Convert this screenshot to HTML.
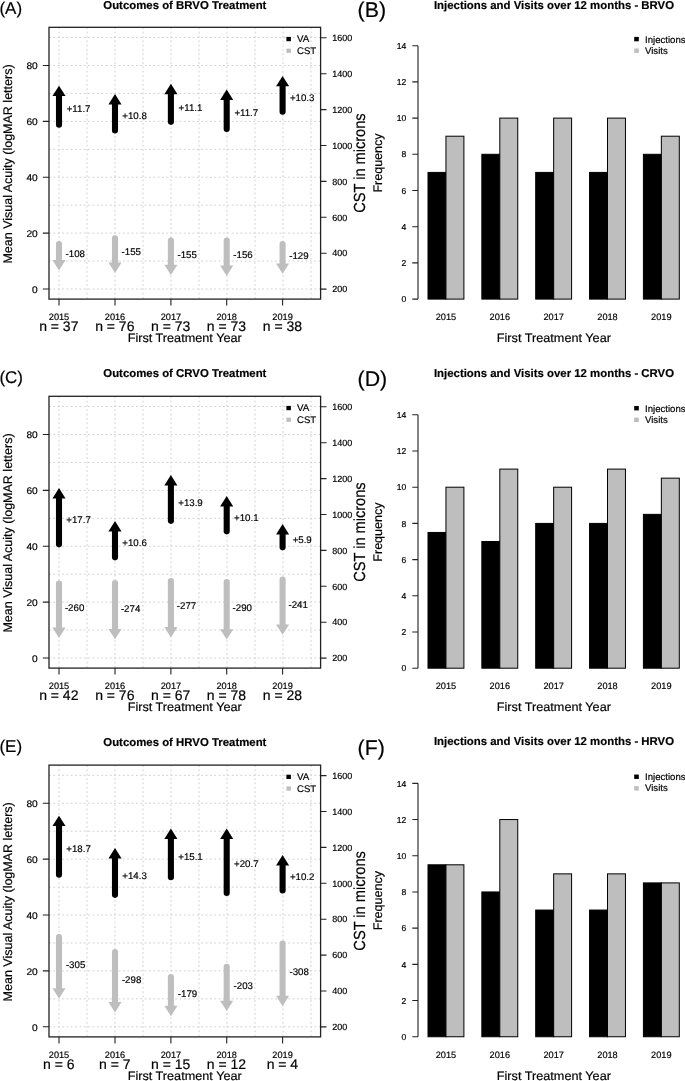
<!DOCTYPE html><html><head><meta charset="utf-8"><style>html,body{margin:0;padding:0;background:#fff;}svg{display:block;will-change:transform;text-rendering:geometricPrecision;}text{stroke:#000;stroke-width:0.18px;}</style></head><body>
<svg width="685" height="1081" viewBox="0 0 685 1081" font-family='"Liberation Sans", sans-serif' fill="#000">
<rect width="685" height="1081" fill="#fff"/>
<g>
<path d="M59.00 27.30V299.10M87.00 27.30V299.10M115.00 27.30V299.10M143.00 27.30V299.10M171.00 27.30V299.10M199.00 27.30V299.10M227.00 27.30V299.10M255.00 27.30V299.10M283.00 27.30V299.10M311.00 27.30V299.10M49.00 289.00H320.60M49.00 261.06H320.60M49.00 233.12H320.60M49.00 205.18H320.60M49.00 177.24H320.60M49.00 149.30H320.60M49.00 121.36H320.60M49.00 93.42H320.60M49.00 65.48H320.60M49.00 37.54H320.60" stroke="#d0d0d0" stroke-width="1" stroke-dasharray="1.8 2.55" fill="none"/>
<rect x="49.0" y="27.30" width="271.60" height="271.80" fill="none" stroke="#222" stroke-width="1.3"/>
<text transform="translate(37.7 292.95) scale(1.05 1)" text-anchor="end" font-size="9.7">0</text>
<text transform="translate(37.7 237.07) scale(1.05 1)" text-anchor="end" font-size="9.7">20</text>
<text transform="translate(37.7 181.19) scale(1.05 1)" text-anchor="end" font-size="9.7">40</text>
<text transform="translate(37.7 125.31) scale(1.05 1)" text-anchor="end" font-size="9.7">60</text>
<text transform="translate(37.7 69.43) scale(1.05 1)" text-anchor="end" font-size="9.7">80</text>
<text x="332.3" y="292.30" font-size="9">200</text>
<text x="332.3" y="256.40" font-size="9">400</text>
<text x="332.3" y="220.50" font-size="9">600</text>
<text x="332.3" y="184.60" font-size="9">800</text>
<text x="332.3" y="148.70" font-size="9">1000</text>
<text x="332.3" y="112.80" font-size="9">1200</text>
<text x="332.3" y="76.90" font-size="9">1400</text>
<text x="332.3" y="41.00" font-size="9">1600</text>
<text x="59.0" y="319.70" text-anchor="middle" font-size="9.2">2015</text>
<text x="58.8" y="331.30" text-anchor="middle" font-size="14">n = 37</text>
<text x="115.0" y="319.70" text-anchor="middle" font-size="9.2">2016</text>
<text x="114.8" y="331.30" text-anchor="middle" font-size="14">n = 76</text>
<text x="170.9" y="319.70" text-anchor="middle" font-size="9.2">2017</text>
<text x="170.70000000000002" y="331.30" text-anchor="middle" font-size="14">n = 73</text>
<text x="226.7" y="319.70" text-anchor="middle" font-size="9.2">2018</text>
<text x="226.5" y="331.30" text-anchor="middle" font-size="14">n = 73</text>
<text x="282.6" y="319.70" text-anchor="middle" font-size="9.2">2019</text>
<text x="282.40000000000003" y="331.30" text-anchor="middle" font-size="14">n = 38</text>
<path d="M42.8 289.00H49.0M42.8 233.12H49.0M42.8 177.24H49.0M42.8 121.36H49.0M42.8 65.48H49.0M320.6 289.10H326.5M320.6 253.20H326.5M320.6 217.30H326.5M320.6 181.40H326.5M320.6 145.50H326.5M320.6 109.60H326.5M320.6 73.70H326.5M320.6 37.80H326.5M59.0 299.10V305.60M115.0 299.10V305.60M170.9 299.10V305.60M226.7 299.10V305.60M282.6 299.10V305.60" stroke="#222" stroke-width="1.1" fill="none"/>
<text transform="translate(184.7 342.40) scale(1.04 1)" text-anchor="middle" font-size="12.2">First Treatment Year</text>
<text transform="translate(12.2 164.00) rotate(-90)" text-anchor="middle" font-size="12.5">Mean Visual Acuity (logMAR letters)</text>
<text transform="translate(365.0 163.10) scale(1.1 1) rotate(-90)" text-anchor="middle" font-size="14.6">CST in microns</text>
<text x="184.85" y="8.90" text-anchor="middle" font-size="11.4" font-weight="bold">Outcomes of BRVO Treatment</text>
<text x="-0.6" y="14.00" font-size="17">(A)</text>
<rect x="286.4" y="36.90" width="4.5" height="4.3" fill="#000"/>
<rect x="286.4" y="48.60" width="4.5" height="4.3" fill="#bebebe"/>
<text x="297.0" y="42.30" font-size="9.8">VA</text>
<text x="297.0" y="53.90" font-size="9.6">CST</text>
<path d="M59.00 124.65V96.60" stroke="#000" stroke-width="6.1" stroke-linecap="round"/>
<path d="M52.45 96.10L65.55 96.10L59.00 85.70Z" fill="#000"/>
<text x="78.60" y="112.05" text-anchor="middle" font-size="9.7">+11.7</text>
<path d="M115.00 130.55V104.90" stroke="#000" stroke-width="6.1" stroke-linecap="round"/>
<path d="M108.45 104.40L121.55 104.40L115.00 94.00Z" fill="#000"/>
<text x="134.60" y="119.15" text-anchor="middle" font-size="9.7">+10.8</text>
<path d="M170.90 121.85V94.70" stroke="#000" stroke-width="6.1" stroke-linecap="round"/>
<path d="M164.35 94.20L177.45 94.20L170.90 83.80Z" fill="#000"/>
<text x="190.50" y="110.55" text-anchor="middle" font-size="9.7">+11.1</text>
<path d="M226.70 129.05V100.50" stroke="#000" stroke-width="6.1" stroke-linecap="round"/>
<path d="M220.15 100.00L233.25 100.00L226.70 89.60Z" fill="#000"/>
<text x="246.30" y="116.35" text-anchor="middle" font-size="9.7">+11.7</text>
<path d="M282.60 111.70V86.80" stroke="#000" stroke-width="6.1" stroke-linecap="round"/>
<path d="M276.05 86.30L289.15 86.30L282.60 75.90Z" fill="#000"/>
<text x="302.20" y="101.15" text-anchor="middle" font-size="9.7">+10.3</text>
<path d="M59.00 243.95V259.60" stroke="#bebebe" stroke-width="6.1" stroke-linecap="round"/>
<path d="M52.45 260.10L65.55 260.10L59.00 270.50Z" fill="#bebebe"/>
<text x="75.30" y="257.40" text-anchor="middle" font-size="9.7">-108</text>
<path d="M115.00 238.35V262.00" stroke="#bebebe" stroke-width="6.1" stroke-linecap="round"/>
<path d="M108.45 262.50L121.55 262.50L115.00 272.90Z" fill="#bebebe"/>
<text x="131.30" y="255.30" text-anchor="middle" font-size="9.7">-155</text>
<path d="M170.90 240.45V264.20" stroke="#bebebe" stroke-width="6.1" stroke-linecap="round"/>
<path d="M164.35 264.70L177.45 264.70L170.90 275.10Z" fill="#bebebe"/>
<text x="187.20" y="257.90" text-anchor="middle" font-size="9.7">-155</text>
<path d="M226.70 240.45V265.10" stroke="#bebebe" stroke-width="6.1" stroke-linecap="round"/>
<path d="M220.15 265.60L233.25 265.60L226.70 276.00Z" fill="#bebebe"/>
<text x="243.00" y="258.40" text-anchor="middle" font-size="9.7">-156</text>
<path d="M282.60 243.95V262.90" stroke="#bebebe" stroke-width="6.1" stroke-linecap="round"/>
<path d="M276.05 263.40L289.15 263.40L282.60 273.80Z" fill="#bebebe"/>
<text x="298.90" y="259.00" text-anchor="middle" font-size="9.7">-129</text>
</g>
<g>
<path d="M59.00 396.30V668.10M87.00 396.30V668.10M115.00 396.30V668.10M143.00 396.30V668.10M171.00 396.30V668.10M199.00 396.30V668.10M227.00 396.30V668.10M255.00 396.30V668.10M283.00 396.30V668.10M311.00 396.30V668.10M49.00 658.00H320.60M49.00 630.06H320.60M49.00 602.12H320.60M49.00 574.18H320.60M49.00 546.24H320.60M49.00 518.30H320.60M49.00 490.36H320.60M49.00 462.42H320.60M49.00 434.48H320.60M49.00 406.54H320.60" stroke="#d0d0d0" stroke-width="1" stroke-dasharray="1.8 2.55" fill="none"/>
<rect x="49.0" y="396.30" width="271.60" height="271.80" fill="none" stroke="#222" stroke-width="1.3"/>
<text transform="translate(37.7 661.95) scale(1.05 1)" text-anchor="end" font-size="9.7">0</text>
<text transform="translate(37.7 606.07) scale(1.05 1)" text-anchor="end" font-size="9.7">20</text>
<text transform="translate(37.7 550.19) scale(1.05 1)" text-anchor="end" font-size="9.7">40</text>
<text transform="translate(37.7 494.31) scale(1.05 1)" text-anchor="end" font-size="9.7">60</text>
<text transform="translate(37.7 438.43) scale(1.05 1)" text-anchor="end" font-size="9.7">80</text>
<text x="332.3" y="661.30" font-size="9">200</text>
<text x="332.3" y="625.40" font-size="9">400</text>
<text x="332.3" y="589.50" font-size="9">600</text>
<text x="332.3" y="553.60" font-size="9">800</text>
<text x="332.3" y="517.70" font-size="9">1000</text>
<text x="332.3" y="481.80" font-size="9">1200</text>
<text x="332.3" y="445.90" font-size="9">1400</text>
<text x="332.3" y="410.00" font-size="9">1600</text>
<text x="59.0" y="688.70" text-anchor="middle" font-size="9.2">2015</text>
<text x="58.8" y="700.30" text-anchor="middle" font-size="14">n = 42</text>
<text x="115.0" y="688.70" text-anchor="middle" font-size="9.2">2016</text>
<text x="114.8" y="700.30" text-anchor="middle" font-size="14">n = 76</text>
<text x="170.9" y="688.70" text-anchor="middle" font-size="9.2">2017</text>
<text x="170.70000000000002" y="700.30" text-anchor="middle" font-size="14">n = 67</text>
<text x="226.7" y="688.70" text-anchor="middle" font-size="9.2">2018</text>
<text x="226.5" y="700.30" text-anchor="middle" font-size="14">n = 78</text>
<text x="282.6" y="688.70" text-anchor="middle" font-size="9.2">2019</text>
<text x="282.40000000000003" y="700.30" text-anchor="middle" font-size="14">n = 28</text>
<path d="M42.8 658.00H49.0M42.8 602.12H49.0M42.8 546.24H49.0M42.8 490.36H49.0M42.8 434.48H49.0M320.6 658.10H326.5M320.6 622.20H326.5M320.6 586.30H326.5M320.6 550.40H326.5M320.6 514.50H326.5M320.6 478.60H326.5M320.6 442.70H326.5M320.6 406.80H326.5M59.0 668.10V674.60M115.0 668.10V674.60M170.9 668.10V674.60M226.7 668.10V674.60M282.6 668.10V674.60" stroke="#222" stroke-width="1.1" fill="none"/>
<text transform="translate(184.7 711.40) scale(1.04 1)" text-anchor="middle" font-size="12.2">First Treatment Year</text>
<text transform="translate(12.2 533.00) rotate(-90)" text-anchor="middle" font-size="12.5">Mean Visual Acuity (logMAR letters)</text>
<text transform="translate(365.0 532.10) scale(1.1 1) rotate(-90)" text-anchor="middle" font-size="14.6">CST in microns</text>
<text x="184.85" y="377.20" text-anchor="middle" font-size="11.4" font-weight="bold">Outcomes of CRVO Treatment</text>
<text x="-0.6" y="383.00" font-size="17">(C)</text>
<rect x="286.4" y="405.90" width="4.5" height="4.3" fill="#000"/>
<rect x="286.4" y="417.60" width="4.5" height="4.3" fill="#bebebe"/>
<text x="297.0" y="411.30" font-size="9.8">VA</text>
<text x="297.0" y="422.90" font-size="9.6">CST</text>
<path d="M59.00 544.35V499.00" stroke="#000" stroke-width="6.1" stroke-linecap="round"/>
<path d="M52.45 498.50L65.55 498.50L59.00 488.10Z" fill="#000"/>
<text x="78.60" y="522.95" text-anchor="middle" font-size="9.7">+17.7</text>
<path d="M115.00 557.35V531.90" stroke="#000" stroke-width="6.1" stroke-linecap="round"/>
<path d="M108.45 531.40L121.55 531.40L115.00 521.00Z" fill="#000"/>
<text x="134.60" y="546.35" text-anchor="middle" font-size="9.7">+10.6</text>
<path d="M170.90 520.85V486.00" stroke="#000" stroke-width="6.1" stroke-linecap="round"/>
<path d="M164.35 485.50L177.45 485.50L170.90 475.10Z" fill="#000"/>
<text x="190.50" y="505.55" text-anchor="middle" font-size="9.7">+13.9</text>
<path d="M226.70 531.35V507.00" stroke="#000" stroke-width="6.1" stroke-linecap="round"/>
<path d="M220.15 506.50L233.25 506.50L226.70 496.10Z" fill="#000"/>
<text x="246.30" y="520.95" text-anchor="middle" font-size="9.7">+10.1</text>
<path d="M282.60 547.35V535.00" stroke="#000" stroke-width="6.1" stroke-linecap="round"/>
<path d="M276.05 534.50L289.15 534.50L282.60 524.10Z" fill="#000"/>
<text x="302.20" y="542.55" text-anchor="middle" font-size="9.7">+5.9</text>
<path d="M59.00 583.55V627.00" stroke="#bebebe" stroke-width="6.1" stroke-linecap="round"/>
<path d="M52.45 627.50L65.55 627.50L59.00 637.90Z" fill="#bebebe"/>
<text x="74.60" y="611.00" text-anchor="middle" font-size="9.7">-260</text>
<path d="M115.00 583.15V628.40" stroke="#bebebe" stroke-width="6.1" stroke-linecap="round"/>
<path d="M108.45 628.90L121.55 628.90L115.00 639.30Z" fill="#bebebe"/>
<text x="130.60" y="611.50" text-anchor="middle" font-size="9.7">-274</text>
<path d="M170.90 580.95V626.50" stroke="#bebebe" stroke-width="6.1" stroke-linecap="round"/>
<path d="M164.35 627.00L177.45 627.00L170.90 637.40Z" fill="#bebebe"/>
<text x="186.50" y="608.60" text-anchor="middle" font-size="9.7">-277</text>
<path d="M226.70 582.05V628.70" stroke="#bebebe" stroke-width="6.1" stroke-linecap="round"/>
<path d="M220.15 629.20L233.25 629.20L226.70 639.60Z" fill="#bebebe"/>
<text x="242.30" y="610.90" text-anchor="middle" font-size="9.7">-290</text>
<path d="M282.60 579.65V623.90" stroke="#bebebe" stroke-width="6.1" stroke-linecap="round"/>
<path d="M276.05 624.40L289.15 624.40L282.60 634.80Z" fill="#bebebe"/>
<text x="298.20" y="607.50" text-anchor="middle" font-size="9.7">-241</text>
</g>
<g>
<path d="M59.00 765.10V1036.90M87.00 765.10V1036.90M115.00 765.10V1036.90M143.00 765.10V1036.90M171.00 765.10V1036.90M199.00 765.10V1036.90M227.00 765.10V1036.90M255.00 765.10V1036.90M283.00 765.10V1036.90M311.00 765.10V1036.90M49.00 1026.80H320.60M49.00 998.86H320.60M49.00 970.92H320.60M49.00 942.98H320.60M49.00 915.04H320.60M49.00 887.10H320.60M49.00 859.16H320.60M49.00 831.22H320.60M49.00 803.28H320.60M49.00 775.34H320.60" stroke="#d0d0d0" stroke-width="1" stroke-dasharray="1.8 2.55" fill="none"/>
<rect x="49.0" y="765.10" width="271.60" height="271.80" fill="none" stroke="#222" stroke-width="1.3"/>
<text transform="translate(37.7 1030.75) scale(1.05 1)" text-anchor="end" font-size="9.7">0</text>
<text transform="translate(37.7 974.87) scale(1.05 1)" text-anchor="end" font-size="9.7">20</text>
<text transform="translate(37.7 918.99) scale(1.05 1)" text-anchor="end" font-size="9.7">40</text>
<text transform="translate(37.7 863.11) scale(1.05 1)" text-anchor="end" font-size="9.7">60</text>
<text transform="translate(37.7 807.23) scale(1.05 1)" text-anchor="end" font-size="9.7">80</text>
<text x="332.3" y="1030.10" font-size="9">200</text>
<text x="332.3" y="994.20" font-size="9">400</text>
<text x="332.3" y="958.30" font-size="9">600</text>
<text x="332.3" y="922.40" font-size="9">800</text>
<text x="332.3" y="886.50" font-size="9">1000</text>
<text x="332.3" y="850.60" font-size="9">1200</text>
<text x="332.3" y="814.70" font-size="9">1400</text>
<text x="332.3" y="778.80" font-size="9">1600</text>
<text x="59.0" y="1057.50" text-anchor="middle" font-size="9.2">2015</text>
<text x="58.8" y="1069.10" text-anchor="middle" font-size="14">n = 6</text>
<text x="115.0" y="1057.50" text-anchor="middle" font-size="9.2">2016</text>
<text x="114.8" y="1069.10" text-anchor="middle" font-size="14">n = 7</text>
<text x="170.9" y="1057.50" text-anchor="middle" font-size="9.2">2017</text>
<text x="170.70000000000002" y="1069.10" text-anchor="middle" font-size="14">n = 15</text>
<text x="226.7" y="1057.50" text-anchor="middle" font-size="9.2">2018</text>
<text x="226.5" y="1069.10" text-anchor="middle" font-size="14">n = 12</text>
<text x="282.6" y="1057.50" text-anchor="middle" font-size="9.2">2019</text>
<text x="282.40000000000003" y="1069.10" text-anchor="middle" font-size="14">n = 4</text>
<path d="M42.8 1026.80H49.0M42.8 970.92H49.0M42.8 915.04H49.0M42.8 859.16H49.0M42.8 803.28H49.0M320.6 1026.90H326.5M320.6 991.00H326.5M320.6 955.10H326.5M320.6 919.20H326.5M320.6 883.30H326.5M320.6 847.40H326.5M320.6 811.50H326.5M320.6 775.60H326.5M59.0 1036.90V1043.40M115.0 1036.90V1043.40M170.9 1036.90V1043.40M226.7 1036.90V1043.40M282.6 1036.90V1043.40" stroke="#222" stroke-width="1.1" fill="none"/>
<text transform="translate(184.7 1080.20) scale(1.04 1)" text-anchor="middle" font-size="12.2">First Treatment Year</text>
<text transform="translate(12.2 901.80) rotate(-90)" text-anchor="middle" font-size="12.5">Mean Visual Acuity (logMAR letters)</text>
<text transform="translate(365.0 900.90) scale(1.1 1) rotate(-90)" text-anchor="middle" font-size="14.6">CST in microns</text>
<text x="184.85" y="745.70" text-anchor="middle" font-size="11.4" font-weight="bold">Outcomes of HRVO Treatment</text>
<text x="-0.6" y="751.80" font-size="17">(E)</text>
<rect x="286.4" y="774.70" width="4.5" height="4.3" fill="#000"/>
<rect x="286.4" y="786.40" width="4.5" height="4.3" fill="#bebebe"/>
<text x="297.0" y="780.10" font-size="9.8">VA</text>
<text x="297.0" y="791.70" font-size="9.6">CST</text>
<path d="M59.00 874.65V826.60" stroke="#000" stroke-width="6.1" stroke-linecap="round"/>
<path d="M52.45 826.10L65.55 826.10L59.00 815.70Z" fill="#000"/>
<text x="78.60" y="851.85" text-anchor="middle" font-size="9.7">+18.7</text>
<path d="M115.00 894.85V859.00" stroke="#000" stroke-width="6.1" stroke-linecap="round"/>
<path d="M108.45 858.50L121.55 858.50L115.00 848.10Z" fill="#000"/>
<text x="134.60" y="878.95" text-anchor="middle" font-size="9.7">+14.3</text>
<path d="M170.90 877.25V839.50" stroke="#000" stroke-width="6.1" stroke-linecap="round"/>
<path d="M164.35 839.00L177.45 839.00L170.90 828.60Z" fill="#000"/>
<text x="190.50" y="860.25" text-anchor="middle" font-size="9.7">+15.1</text>
<path d="M226.70 892.95V839.50" stroke="#000" stroke-width="6.1" stroke-linecap="round"/>
<path d="M220.15 839.00L233.25 839.00L226.70 828.60Z" fill="#000"/>
<text x="246.30" y="867.35" text-anchor="middle" font-size="9.7">+20.7</text>
<path d="M282.60 890.55V866.00" stroke="#000" stroke-width="6.1" stroke-linecap="round"/>
<path d="M276.05 865.50L289.15 865.50L282.60 855.10Z" fill="#000"/>
<text x="302.20" y="880.15" text-anchor="middle" font-size="9.7">+10.2</text>
<path d="M59.00 937.05V987.70" stroke="#bebebe" stroke-width="6.1" stroke-linecap="round"/>
<path d="M52.45 988.20L65.55 988.20L59.00 998.60Z" fill="#bebebe"/>
<text x="75.60" y="967.90" text-anchor="middle" font-size="9.7">-305</text>
<path d="M115.00 952.05V1001.60" stroke="#bebebe" stroke-width="6.1" stroke-linecap="round"/>
<path d="M108.45 1002.10L121.55 1002.10L115.00 1012.50Z" fill="#bebebe"/>
<text x="131.60" y="982.50" text-anchor="middle" font-size="9.7">-298</text>
<path d="M170.90 977.05V1005.30" stroke="#bebebe" stroke-width="6.1" stroke-linecap="round"/>
<path d="M164.35 1005.80L177.45 1005.80L170.90 1016.20Z" fill="#bebebe"/>
<text x="187.50" y="996.80" text-anchor="middle" font-size="9.7">-179</text>
<path d="M226.70 966.85V1000.20" stroke="#bebebe" stroke-width="6.1" stroke-linecap="round"/>
<path d="M220.15 1000.70L233.25 1000.70L226.70 1011.10Z" fill="#bebebe"/>
<text x="243.30" y="989.20" text-anchor="middle" font-size="9.7">-203</text>
<path d="M282.60 943.55V995.30" stroke="#bebebe" stroke-width="6.1" stroke-linecap="round"/>
<path d="M276.05 995.80L289.15 995.80L282.60 1006.20Z" fill="#bebebe"/>
<text x="299.20" y="974.90" text-anchor="middle" font-size="9.7">-308</text>
</g>
<text x="406.2" y="302.25" text-anchor="end" font-size="8.6">0</text>
<text x="406.2" y="266.05" text-anchor="end" font-size="8.6">2</text>
<text x="406.2" y="229.85" text-anchor="end" font-size="8.6">4</text>
<text x="406.2" y="193.65" text-anchor="end" font-size="8.6">6</text>
<text x="406.2" y="157.45" text-anchor="end" font-size="8.6">8</text>
<text x="406.2" y="121.25" text-anchor="end" font-size="8.6">10</text>
<text x="406.2" y="85.05" text-anchor="end" font-size="8.6">12</text>
<text x="406.2" y="48.85" text-anchor="end" font-size="8.6">14</text>
<path d="M418.0 45.70V299.10M412.3 299.10H418.0M412.3 262.90H418.0M412.3 226.70H418.0M412.3 190.50H418.0M412.3 154.30H418.0M412.3 118.10H418.0M412.3 81.90H418.0M412.3 45.70H418.0" stroke="#222" stroke-width="1.1" fill="none"/>
<rect x="428.00" y="172.40" width="17.95" height="126.70" fill="#000" stroke="#000" stroke-width="1"/>
<rect x="445.95" y="136.20" width="17.95" height="162.90" fill="#bebebe" stroke="#000" stroke-width="1"/>
<text x="445.95" y="320.00" text-anchor="middle" font-size="9.2">2015</text>
<rect x="481.85" y="154.30" width="17.95" height="144.80" fill="#000" stroke="#000" stroke-width="1"/>
<rect x="499.80" y="118.10" width="17.95" height="181.00" fill="#bebebe" stroke="#000" stroke-width="1"/>
<text x="499.80" y="320.00" text-anchor="middle" font-size="9.2">2016</text>
<rect x="535.70" y="172.40" width="17.95" height="126.70" fill="#000" stroke="#000" stroke-width="1"/>
<rect x="553.65" y="118.10" width="17.95" height="181.00" fill="#bebebe" stroke="#000" stroke-width="1"/>
<text x="553.65" y="320.00" text-anchor="middle" font-size="9.2">2017</text>
<rect x="589.55" y="172.40" width="17.95" height="126.70" fill="#000" stroke="#000" stroke-width="1"/>
<rect x="607.50" y="118.10" width="17.95" height="181.00" fill="#bebebe" stroke="#000" stroke-width="1"/>
<text x="607.50" y="320.00" text-anchor="middle" font-size="9.2">2018</text>
<rect x="643.40" y="154.30" width="17.95" height="144.80" fill="#000" stroke="#000" stroke-width="1"/>
<rect x="661.35" y="136.20" width="17.95" height="162.90" fill="#bebebe" stroke="#000" stroke-width="1"/>
<text x="661.35" y="320.00" text-anchor="middle" font-size="9.2">2019</text>
<text transform="translate(553.85 341.90) scale(1.04 1)" text-anchor="middle" font-size="12.2">First Treatment Year</text>
<text transform="translate(381.5 163.00) rotate(-90)" text-anchor="middle" font-size="12.5">Frequency</text>
<text x="554.0" y="8.50" text-anchor="middle" font-size="11.4" font-weight="bold">Injections and Visits over 12 months - BRVO</text>
<text x="357.6" y="17.10" font-size="21.3">(B)</text>
<rect x="634.2" y="36.90" width="4.6" height="4.4" fill="#000"/>
<rect x="634.2" y="48.50" width="4.6" height="4.4" fill="#bebebe"/>
<text x="645.0" y="42.60" font-size="9.6">Injections</text>
<text x="645.0" y="53.50" font-size="9.6">Visits</text>
<text x="406.2" y="671.35" text-anchor="end" font-size="8.6">0</text>
<text x="406.2" y="635.15" text-anchor="end" font-size="8.6">2</text>
<text x="406.2" y="598.95" text-anchor="end" font-size="8.6">4</text>
<text x="406.2" y="562.75" text-anchor="end" font-size="8.6">6</text>
<text x="406.2" y="526.55" text-anchor="end" font-size="8.6">8</text>
<text x="406.2" y="490.35" text-anchor="end" font-size="8.6">10</text>
<text x="406.2" y="454.15" text-anchor="end" font-size="8.6">12</text>
<text x="406.2" y="417.95" text-anchor="end" font-size="8.6">14</text>
<path d="M418.0 414.80V668.20M412.3 668.20H418.0M412.3 632.00H418.0M412.3 595.80H418.0M412.3 559.60H418.0M412.3 523.40H418.0M412.3 487.20H418.0M412.3 451.00H418.0M412.3 414.80H418.0" stroke="#222" stroke-width="1.1" fill="none"/>
<rect x="428.00" y="532.45" width="17.95" height="135.75" fill="#000" stroke="#000" stroke-width="1"/>
<rect x="445.95" y="487.20" width="17.95" height="181.00" fill="#bebebe" stroke="#000" stroke-width="1"/>
<text x="445.95" y="689.10" text-anchor="middle" font-size="9.2">2015</text>
<rect x="481.85" y="541.50" width="17.95" height="126.70" fill="#000" stroke="#000" stroke-width="1"/>
<rect x="499.80" y="469.10" width="17.95" height="199.10" fill="#bebebe" stroke="#000" stroke-width="1"/>
<text x="499.80" y="689.10" text-anchor="middle" font-size="9.2">2016</text>
<rect x="535.70" y="523.40" width="17.95" height="144.80" fill="#000" stroke="#000" stroke-width="1"/>
<rect x="553.65" y="487.20" width="17.95" height="181.00" fill="#bebebe" stroke="#000" stroke-width="1"/>
<text x="553.65" y="689.10" text-anchor="middle" font-size="9.2">2017</text>
<rect x="589.55" y="523.40" width="17.95" height="144.80" fill="#000" stroke="#000" stroke-width="1"/>
<rect x="607.50" y="469.10" width="17.95" height="199.10" fill="#bebebe" stroke="#000" stroke-width="1"/>
<text x="607.50" y="689.10" text-anchor="middle" font-size="9.2">2018</text>
<rect x="643.40" y="514.35" width="17.95" height="153.85" fill="#000" stroke="#000" stroke-width="1"/>
<rect x="661.35" y="478.15" width="17.95" height="190.05" fill="#bebebe" stroke="#000" stroke-width="1"/>
<text x="661.35" y="689.10" text-anchor="middle" font-size="9.2">2019</text>
<text transform="translate(553.85 711.00) scale(1.04 1)" text-anchor="middle" font-size="12.2">First Treatment Year</text>
<text transform="translate(381.5 532.10) rotate(-90)" text-anchor="middle" font-size="12.5">Frequency</text>
<text x="554.0" y="376.80" text-anchor="middle" font-size="11.4" font-weight="bold">Injections and Visits over 12 months - CRVO</text>
<text x="357.6" y="386.20" font-size="21.3">(D)</text>
<rect x="634.2" y="406.00" width="4.6" height="4.4" fill="#000"/>
<rect x="634.2" y="417.60" width="4.6" height="4.4" fill="#bebebe"/>
<text x="645.0" y="411.70" font-size="9.6">Injections</text>
<text x="645.0" y="422.60" font-size="9.6">Visits</text>
<text x="406.2" y="1039.90" text-anchor="end" font-size="8.6">0</text>
<text x="406.2" y="1003.70" text-anchor="end" font-size="8.6">2</text>
<text x="406.2" y="967.50" text-anchor="end" font-size="8.6">4</text>
<text x="406.2" y="931.30" text-anchor="end" font-size="8.6">6</text>
<text x="406.2" y="895.10" text-anchor="end" font-size="8.6">8</text>
<text x="406.2" y="858.90" text-anchor="end" font-size="8.6">10</text>
<text x="406.2" y="822.70" text-anchor="end" font-size="8.6">12</text>
<text x="406.2" y="786.50" text-anchor="end" font-size="8.6">14</text>
<path d="M418.0 783.35V1036.75M412.3 1036.75H418.0M412.3 1000.55H418.0M412.3 964.35H418.0M412.3 928.15H418.0M412.3 891.95H418.0M412.3 855.75H418.0M412.3 819.55H418.0M412.3 783.35H418.0" stroke="#222" stroke-width="1.1" fill="none"/>
<rect x="428.00" y="864.80" width="17.95" height="171.95" fill="#000" stroke="#000" stroke-width="1"/>
<rect x="445.95" y="864.80" width="17.95" height="171.95" fill="#bebebe" stroke="#000" stroke-width="1"/>
<text x="445.95" y="1057.65" text-anchor="middle" font-size="9.2">2015</text>
<rect x="481.85" y="891.95" width="17.95" height="144.80" fill="#000" stroke="#000" stroke-width="1"/>
<rect x="499.80" y="819.55" width="17.95" height="217.20" fill="#bebebe" stroke="#000" stroke-width="1"/>
<text x="499.80" y="1057.65" text-anchor="middle" font-size="9.2">2016</text>
<rect x="535.70" y="910.05" width="17.95" height="126.70" fill="#000" stroke="#000" stroke-width="1"/>
<rect x="553.65" y="873.85" width="17.95" height="162.90" fill="#bebebe" stroke="#000" stroke-width="1"/>
<text x="553.65" y="1057.65" text-anchor="middle" font-size="9.2">2017</text>
<rect x="589.55" y="910.05" width="17.95" height="126.70" fill="#000" stroke="#000" stroke-width="1"/>
<rect x="607.50" y="873.85" width="17.95" height="162.90" fill="#bebebe" stroke="#000" stroke-width="1"/>
<text x="607.50" y="1057.65" text-anchor="middle" font-size="9.2">2018</text>
<rect x="643.40" y="882.90" width="17.95" height="153.85" fill="#000" stroke="#000" stroke-width="1"/>
<rect x="661.35" y="882.90" width="17.95" height="153.85" fill="#bebebe" stroke="#000" stroke-width="1"/>
<text x="661.35" y="1057.65" text-anchor="middle" font-size="9.2">2019</text>
<text transform="translate(553.85 1079.55) scale(1.04 1)" text-anchor="middle" font-size="12.2">First Treatment Year</text>
<text transform="translate(381.5 900.65) rotate(-90)" text-anchor="middle" font-size="12.5">Frequency</text>
<text x="554.0" y="745.15" text-anchor="middle" font-size="11.4" font-weight="bold">Injections and Visits over 12 months - HRVO</text>
<text x="357.6" y="754.75" font-size="21.3">(F)</text>
<rect x="634.2" y="774.55" width="4.6" height="4.4" fill="#000"/>
<rect x="634.2" y="786.15" width="4.6" height="4.4" fill="#bebebe"/>
<text x="645.0" y="780.25" font-size="9.6">Injections</text>
<text x="645.0" y="791.15" font-size="9.6">Visits</text>
</svg></body></html>
